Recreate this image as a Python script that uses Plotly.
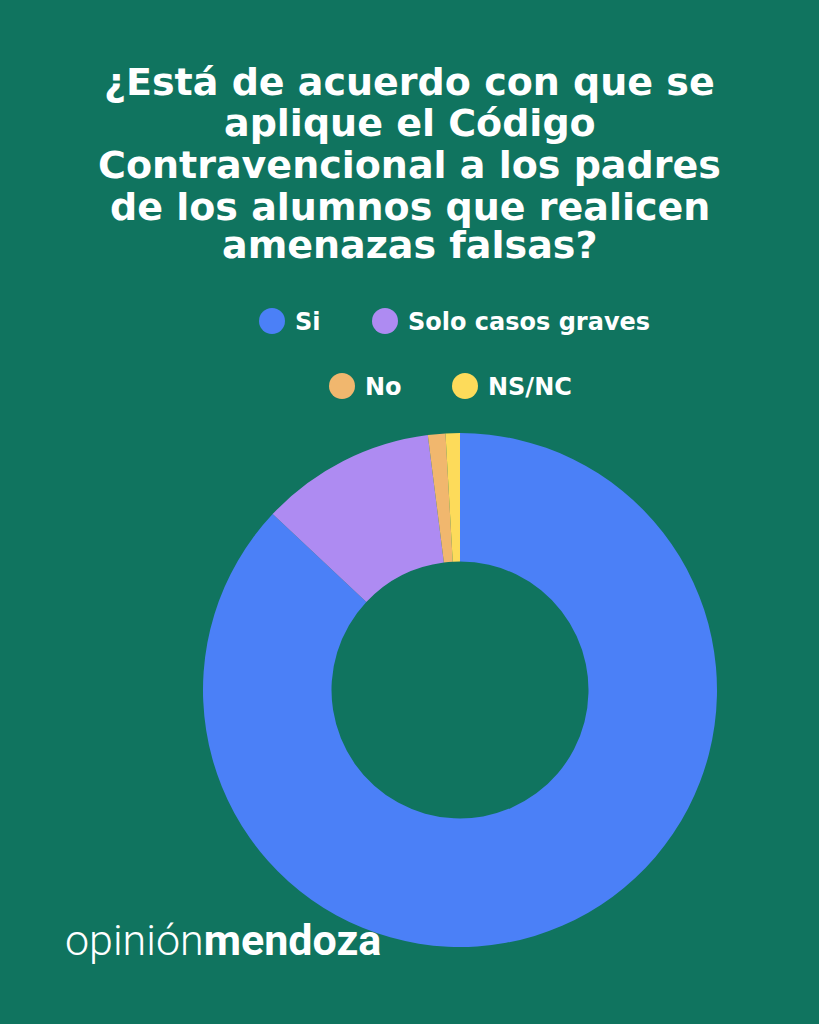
import plotly.graph_objects as go

categories = ["Si", "Solo casos graves", "No", "NS/NC"]
values = [87, 11, 1.1, 0.9]
colors = ["#4B80F7", "#AE8BF2", "#F1B76E", "#FDDB5A"]
title_lines = [
    "¿Está de acuerdo con que se",
    "aplique el Código",
    "Contravencional a los padres",
    "de los alumnos que realicen",
    "amenazas falsas?",
]
BG = "#10745F"

W, H = 819, 1024
cx, cy, r = 460, 690, 257

fig = go.Figure()
fig.add_trace(go.Pie(
    labels=categories, values=values, marker=dict(colors=colors, line=dict(width=0)),
    hole=0.5, sort=False, direction="clockwise", rotation=0,
    textinfo="none", hoverinfo="label+percent", showlegend=False,
    domain=dict(x=[(cx - r) / W, (cx + r) / W], y=[(H - cy - r) / H, (H - cy + r) / H]),
))

fig.update_layout(
    width=W, height=H,
    paper_bgcolor=BG, plot_bgcolor=BG,
    margin=dict(l=0, r=0, t=0, b=0),
)

# legend drawn as circles + labels (two centered rows)
legend_pos = [(272, 321), (385, 321), (342, 386), (465, 386)]
legend_r = 13
for cat, col, (lx, ly) in zip(categories, colors, legend_pos):
    fig.add_shape(type="circle", xref="paper", yref="paper",
                  x0=(lx - legend_r) / W, x1=(lx + legend_r) / W,
                  y0=1 - (ly + legend_r) / H, y1=1 - (ly - legend_r) / H,
                  fillcolor=col, line=dict(width=0))
    fig.add_annotation(text=cat, xref="paper", yref="paper",
                       x=(lx + 21) / W, y=1 - (ly + 1) / H, xanchor="left", yanchor="middle",
                       showarrow=False,
                       font=dict(family="DejaVu Sans", size=24, color="white", weight="bold"))

line_y = [82, 123, 165, 207, 245]
for txt, ly in zip(title_lines, line_y):
    fig.add_annotation(
        text=txt, xref="paper", yref="paper", x=0.5, y=1 - ly / H,
        xanchor="center", yanchor="middle", showarrow=False,
        font=dict(family="DejaVu Sans", size=38, color="white", weight="bold"),
    )

fig.add_annotation(
    text="opinión<b>mendoza</b>", xref="paper", yref="paper",
    x=63 / W, y=1 - 940 / H, xanchor="left", yanchor="middle", showarrow=False,
    font=dict(family="Roboto", size=43, color="white", weight=300),
)

fig.write_html("out.html", config={"displayModeBar": False},
               post_script="document.body.style.margin='0';document.body.style.background='%s';" % BG)
